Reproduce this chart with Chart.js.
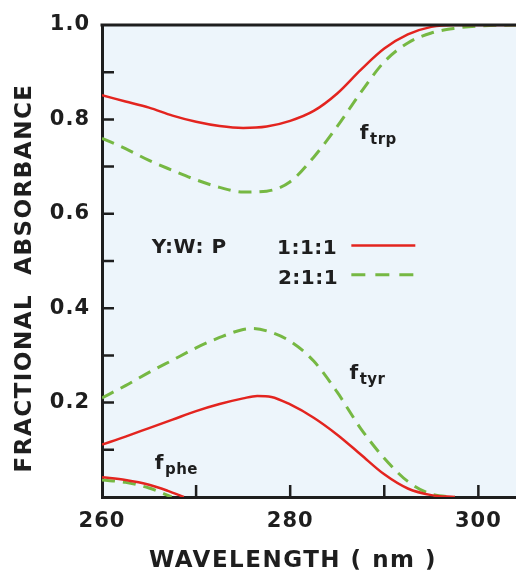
<!DOCTYPE html>
<html>
<head>
<meta charset="utf-8">
<script src="https://cdn.jsdelivr.net/npm/chart.js@4.4.1/dist/chart.umd.min.js"></script>
<style>
  html, body { margin: 0; padding: 0; background: #fff; }
  #wrap { width: 516px; height: 573px; }
</style>
</head>
<body>
<div id="wrap"><canvas id="chart" width="516" height="573"></canvas></div>
<script>
// ---- data ----
const xTickLabels = ['260', '280', '300'];
const yTickLabels = ['0.2', '0.4', '0.6', '0.8', '1.0'];

// f_trp, Y:W:P = 1:1:1 (red) and 2:1:1 (green)
const trpNmA = [260, 262.5, 265, 267.5, 270, 272.5, 275, 277.5, 280, 282.5, 285, 287.5, 290, 292.5, 295, 297.5, 304];
const trpA   = [0.851, 0.838, 0.825, 0.808, 0.795, 0.786, 0.782, 0.785, 0.797, 0.818, 0.855, 0.905, 0.950, 0.980, 0.996, 1.0, 1.0];
const trpNmB = [260, 262.5, 265, 267.5, 270, 272.5, 275, 277.5, 280, 282.5, 285, 287.5, 290, 292.5, 295, 297.5, 300, 304];
const trpB   = [0.760, 0.738, 0.713, 0.692, 0.672, 0.656, 0.646, 0.648, 0.668, 0.720, 0.785, 0.857, 0.922, 0.962, 0.983, 0.993, 0.998, 1.0];

// f_tyr
const tyrNmA = [260, 262.5, 265, 267.5, 270, 272.5, 275, 276.5, 278, 280, 282.5, 285, 287.5, 290, 292.5, 295, 297.5];
const tyrA   = [0.111, 0.128, 0.146, 0.164, 0.182, 0.197, 0.209, 0.214, 0.212, 0.196, 0.168, 0.132, 0.090, 0.048, 0.018, 0.004, 0.0];
const tyrNmB = [260, 262.5, 265, 267.5, 270, 272.5, 275, 276, 277.5, 280, 282.5, 285, 287.5, 290, 292.5, 295, 297.5];
const tyrB   = [0.210, 0.236, 0.264, 0.290, 0.316, 0.338, 0.355, 0.357, 0.352, 0.330, 0.288, 0.222, 0.145, 0.082, 0.033, 0.006, 0.0];

// f_phe
const pheNmA = [260, 262.5, 265, 267, 268.7];
const pheA   = [0.042, 0.036, 0.026, 0.013, 0.0];
const pheNmB = [260, 262.5, 265, 267.4];
const pheB   = [0.036, 0.031, 0.019, 0.0];

// curve labels and legend (data coordinates)
const curveLabels = [
    { f: 'f', sub: 'trp', x: 287.4, y: 0.759 },
    { f: 'f', sub: 'tyr', x: 286.3, y: 0.249 },
    { f: 'f', sub: 'phe', x: 265.6, y: 0.059 }
];
const legendTitle = 'Y:W: P';
const legendNames = ['1:1:1', '2:1:1'];

const RED = '#e3241f';
const GREEN = '#76b843';
const INK = '#1e1e1e';
const FONT = '"DejaVu Sans", sans-serif';

function pts(xs, ys) {
    return xs.map((x, i) => ({ x: x, y: ys[i] }));
}

function lineSet(label, data, dashed) {
    return {
        label: label,
        data: data,
        borderColor: dashed ? GREEN : RED,
        borderWidth: dashed ? 3 : 2.5,
        borderDash: dashed ? [13, 8] : [],
        pointRadius: 0,
        fill: false,
        cubicInterpolationMode: 'monotone'
    };
}

// background, top frame, inside tick marks, annotations, axis titles
const decor = {
    id: 'decor',
    beforeDraw(chart) {
        const { ctx, chartArea: a } = chart;
        ctx.letterSpacing = '1px';
        ctx.save();
        ctx.fillStyle = '#edf5fb';
        ctx.fillRect(a.left, a.top, a.right - a.left, a.bottom - a.top);
        ctx.restore();
    },
    afterDraw(chart) {
        const { ctx, chartArea: a } = chart;
        const xs = chart.scales.x, ys = chart.scales.y;
        ctx.save();
        ctx.strokeStyle = INK;
        ctx.lineWidth = 3;
        ctx.beginPath();
        ctx.moveTo(a.left - 1.5, a.top);
        ctx.lineTo(a.right, a.top);
        ctx.stroke();

        // tick marks pointing into the plot (skip the ones on the frame)
        ctx.lineWidth = 2.5;
        ctx.beginPath();
        ys.ticks.forEach(t => {
            if (t.value < 0.05 || t.value > 0.95) return;
            const py = ys.getPixelForValue(t.value);
            ctx.moveTo(a.left, py);
            ctx.lineTo(a.left + 12, py);
        });
        xs.ticks.forEach(t => {
            if (t.value <= xs.min || t.value >= xs.max) return;
            const px = xs.getPixelForValue(t.value);
            ctx.moveTo(px, a.bottom);
            ctx.lineTo(px, a.bottom - 12);
        });
        ctx.stroke();

        // curve labels
        ctx.fillStyle = INK;
        ctx.textBaseline = 'alphabetic';
        ctx.textAlign = 'left';
        ctx.letterSpacing = '0.5px';
        curveLabels.forEach(l => {
            const px = xs.getPixelForValue(l.x), py = ys.getPixelForValue(l.y);
            ctx.font = 'bold 20px ' + FONT;
            ctx.fillText(l.f, px, py);
            const w = ctx.measureText(l.f).width;
            ctx.font = 'bold 15px ' + FONT;
            ctx.fillText(l.sub, px + w + 1, py + 5);
        });

        // legend
        ctx.letterSpacing = '0.5px';
        ctx.font = 'bold 20px ' + FONT;
        ctx.fillText(legendTitle, xs.getPixelForValue(265.3), ys.getPixelForValue(0.516));
        ctx.fillText(legendNames[0], xs.getPixelForValue(278.6), ys.getPixelForValue(0.514));
        ctx.fillText(legendNames[1], xs.getPixelForValue(278.7), ys.getPixelForValue(0.452));
        const lx0 = xs.getPixelForValue(286.5), lx1 = xs.getPixelForValue(293.3);
        ctx.strokeStyle = RED;
        ctx.lineWidth = 2.5;
        ctx.beginPath();
        ctx.moveTo(lx0, ys.getPixelForValue(0.533));
        ctx.lineTo(lx1, ys.getPixelForValue(0.533));
        ctx.stroke();
        ctx.strokeStyle = GREEN;
        ctx.lineWidth = 3;
        ctx.setLineDash([14, 10]);
        ctx.beginPath();
        ctx.moveTo(lx0, ys.getPixelForValue(0.471));
        ctx.lineTo(lx1, ys.getPixelForValue(0.471));
        ctx.stroke();
        ctx.setLineDash([]);

        // axis titles
        ctx.font = 'bold 23px ' + FONT;
        ctx.letterSpacing = '1.5px';
        ctx.textAlign = 'center';
        ctx.textBaseline = 'middle';
        ctx.fillText('WAVELENGTH ( nm )', 293, 561);
        ctx.translate(25, 278);
        ctx.rotate(-Math.PI / 2);
        ctx.fillText('FRACTIONAL  ABSORBANCE', 0, 0);
        ctx.restore();
    }
};

new Chart(document.getElementById('chart'), {
    type: 'line',
    data: {
        datasets: [
            lineSet('trp 1:1:1', pts(trpNmA, trpA), false),
            lineSet('tyr 1:1:1', pts(tyrNmA, tyrA), false),
            lineSet('phe 1:1:1', pts(pheNmA, pheA), false),
            lineSet('trp 2:1:1', pts(trpNmB, trpB), true),
            lineSet('tyr 2:1:1', pts(tyrNmB, tyrB), true),
            lineSet('phe 2:1:1', pts(pheNmB, pheB), true)
        ]
    },
    options: {
        responsive: false,
        animation: false,
        layout: { padding: { top: 25, right: 0, left: 0, bottom: 0 } },
        plugins: {
            legend: { display: false },
            tooltip: { enabled: false }
        },
        scales: {
            x: {
                type: 'linear',
                min: 260,
                max: 304,
                afterFit: s => {
                    s.height = 76;
                    s.paddingLeft = 0;
                    s.paddingRight = 0;
                },
                grid: { drawOnChartArea: false, drawTicks: false },
                border: { color: INK, width: 3 },
                ticks: {
                    stepSize: 10,
                    includeBounds: false,
                    autoSkip: false,
                    maxRotation: 0,
                    padding: 12,
                    color: INK,
                    font: { family: FONT, size: 21, weight: 'bold' },
                    callback: v => xTickLabels.includes(String(v)) ? String(v) : ''
                }
            },
            y: {
                min: 0,
                max: 1,
                afterFit: s => {
                    s.width = 102;
                    s.paddingTop = 0;
                    s.paddingBottom = 0;
                },
                grid: { drawOnChartArea: false, drawTicks: false },
                border: { color: INK, width: 3 },
                ticks: {
                    stepSize: 0.1,
                    autoSkip: false,
                    padding: 12,
                    color: INK,
                    font: { family: FONT, size: 21, weight: 'bold' },
                    callback: v => {
                        const s = v.toFixed(1);
                        return yTickLabels.includes(s) ? s : '';
                    }
                }
            }
        }
    },
    plugins: [decor]
});
</script>
</body>
</html>
